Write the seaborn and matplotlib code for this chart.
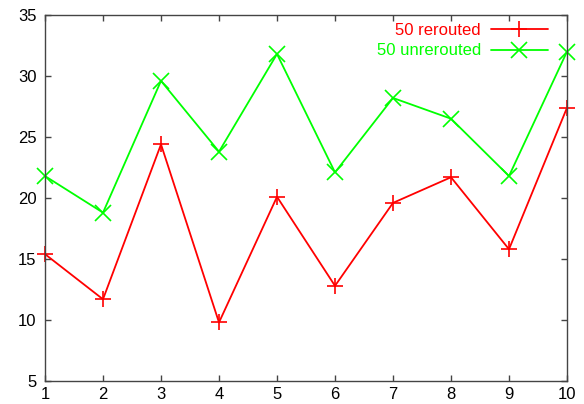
import matplotlib
matplotlib.use("Agg")
import matplotlib.pyplot as plt
import seaborn as sns
import pandas as pd

x_vals = [1, 2, 3, 4, 5, 6, 7, 8, 9, 10]
rerouted = [15.4, 11.7, 24.4, 9.8, 20.1, 12.8, 19.6, 21.7, 15.8, 27.4]
unrerouted = [21.8, 18.8, 29.6, 23.8, 31.8, 22.1, 28.2, 26.5, 21.8, 32.0]
series_names = ["50 rerouted", "50 unrerouted"]
y_ticks = [5, 10, 15, 20, 25, 30, 35]

sns.set_theme(style="ticks")
plt.rcParams['font.family'] = ['Liberation Sans', 'DejaVu Sans']

df_r = pd.DataFrame({"x": x_vals, "y": rerouted})
df_u = pd.DataFrame({"x": x_vals, "y": unrerouted})

fig = plt.figure(figsize=(5.84, 4.04), dpi=100)
ax = fig.add_axes([45/584, 23/404, (567-45)/584, (381-15)/404])

sns.lineplot(data=df_r, x="x", y="y", ax=ax, color="#ff0000", marker="+",
             markersize=12, markeredgewidth=1.2, markeredgecolor="#ff0000",
             linewidth=1.3, label=series_names[0], clip_on=False)
sns.lineplot(data=df_u, x="x", y="y", ax=ax, color="#00ff00", marker="x",
             markersize=12, markeredgewidth=1.2, markeredgecolor="#00ff00",
             linewidth=1.3, label=series_names[1], clip_on=False)

ax.set_xlim(1, 10)
ax.set_ylim(5, 35)
ax.set_xticks(x_vals)
ax.set_yticks(y_ticks)
ax.set_xlabel("")
ax.set_ylabel("")

for s in ax.spines.values():
    s.set_visible(True)
    s.set_color("#444444")
    s.set_linewidth(1.0)
ax.tick_params(direction="in", length=4, width=1, color="#444444",
               top=True, right=True, labelsize=12, labelcolor="black")
ax.tick_params(axis="y", pad=6)
ax.tick_params(axis="x", pad=4)

leg = ax.legend(loc="upper right", frameon=False, markerfirst=False,
                labelcolor="linecolor", fontsize=12, handlelength=3.4,
                handletextpad=0.6, labelspacing=0.32,
                bbox_to_anchor=(0.985, 1.01), borderaxespad=0.3)

fig.savefig("out.png", dpi=100)
